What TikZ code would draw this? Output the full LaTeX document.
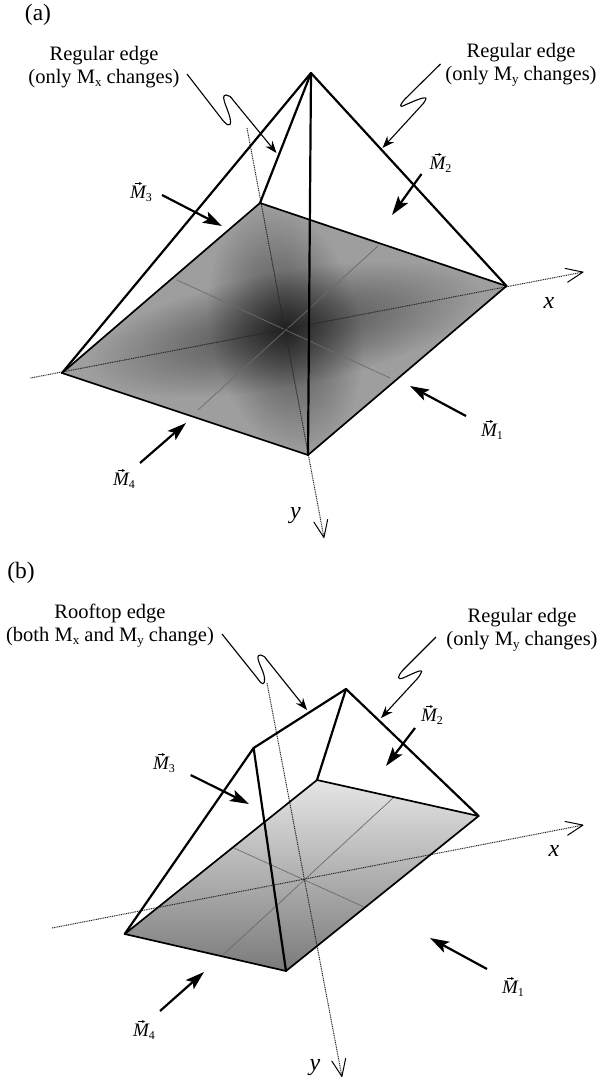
\documentclass[tikz,border=0pt]{standalone}
\usepackage{fontspec}
\setmainfont{Liberation Serif}
\usetikzlibrary{arrows.meta,fadings}
\tikzfading[name=blob,inner color=transparent!0,middle color=transparent!70,outer color=transparent!100]
\newcommand\MV[1]{M\raisebox{-3.5pt}{\fontsize{12}{12}\selectfont\upshape #1}}
\newcommand\SB[1]{\raisebox{-3pt}{\fontsize{13}{13}\selectfont #1}}
\tikzset{
  x=1pt,y=-1pt,
  edgeline/.style={line width=2.2pt,line join=round,line cap=round},
  baseline line/.style={line width=1.7pt,line join=round},
  axisline/.style={line width=1pt,dash pattern=on 1pt off .8pt,black!85},
  axisarrow/.style={axisline,-{Straight Barb[length=17pt,width=14pt,line width=1pt,black,round]}},
  midline/.style={line width=.9pt,dash pattern=on 1pt off .5pt,black!58},
  pointer/.style={line width=1.1pt,-{Stealth[length=12pt,width=9pt,inset=4pt]}},
  magarrow/.style={line width=2.2pt,-{Stealth[length=19pt,width=12pt,inset=4pt]}},
  vecmark/.style={line width=.6pt,-{Stealth[length=3pt,width=3pt]}},
  caption/.style={font=\fontsize{20.5}{23}\selectfont,align=center,inner sep=0pt},
  panel/.style={font=\fontsize{23.5}{26}\selectfont,inner sep=0pt},
  maglabel/.style={font=\fontsize{19}{21}\selectfont\itshape,inner sep=0pt},
  axislabel/.style={font=\fontsize{24}{26}\selectfont\itshape,inner sep=0pt},
}
\begin{document}
\begin{tikzpicture}
\useasboundingbox (0,0) rectangle (598,1081);
% ---------- panel (a)
\coordinate (aA) at (311,73);
\coordinate (aB) at (260,203);
\coordinate (aR) at (506.5,286);
\coordinate (aL) at (62,373);
\coordinate (aF) at (308,455);
\coordinate (aC) at (285,329);
\fill[black!38] (aB)--(aR)--(aF)--(aL)--cycle;
\begin{scope}
\clip (aB)--(aR)--(aF)--(aL)--cycle;
\begin{scope}[transform canvas={shift={(aC)},rotate=10.8}]
\fill[black,opacity=.55,path fading=blob] (0,0) ellipse [x radius=200,y radius=58];
\end{scope}
\begin{scope}[transform canvas={shift={(aC)},rotate=-79}]
\fill[black,opacity=.55,path fading=blob] (0,0) ellipse [x radius=125,y radius=75];
\end{scope}
\end{scope}
\coordinate (aXs) at (30.5,378); \coordinate (aXe) at (583.5,272);
\coordinate (aYs) at (247,128);  \coordinate (aYe) at (324,538);
\coordinate (aM1s) at (177,280); \coordinate (aM1e) at (390,378);
\coordinate (aM2s) at (378,246); \coordinate (aM2e) at (198,410);
\draw[midline] (aM1s)--(aM1e);
\draw[midline] (aM2s)--(aM2e);
\draw[axisarrow] (aXs)--(aXe);
\draw[axisarrow] (aYs)--(aYe);
\draw[baseline line] (aB)--(aR)--(aF)--(aL)--cycle;
\draw[edgeline] (aA)--(aL);
\draw[edgeline] (aA)--(aB);
\draw[edgeline] (aA)--(aF);
\draw[edgeline] (aA)--(aR);
\node[panel] (alabel) at (38,15) {(a)};
\node[caption] (acapL) at (104,67) {Regular edge\\(only M\SB{x} changes)};
\node[caption] (acapR) at (521,65) {Regular edge\\(only M\SB{y} changes)};
\coordinate (aPLs) at (187,74); \coordinate (aPLe) at (276.5,153);
\coordinate (aPRs) at (440.5,64); \coordinate (aPRe) at (382.5,148);
\draw[pointer] (aPLs) -- (221,118) .. controls (226,125) and (231,128) .. (230.5,121)
  .. controls (230,112) and (219,95) .. (226,95) .. controls (229,95) and (231,97) .. (233,100) -- (aPLe);
\draw[pointer] (aPRs) -- (405,99) .. controls (399,106) and (399,108) .. (405,105)
  .. controls (412,102) and (429,94) .. (425.5,100) .. controls (424,103) and (423,104) .. (421,106) -- (aPRe);
\coordinate (aa3) at (162,195); \coordinate (ab3) at (222,226);
\coordinate (aa2) at (421.5,174); \coordinate (ab2) at (392,215);
\coordinate (aa1) at (466,416); \coordinate (ab1) at (410,386);
\coordinate (aa4) at (140,463); \coordinate (ab4) at (186,423);
\draw[magarrow] (aa3)--(ab3);
\draw[magarrow] (aa2)--(ab2);
\draw[magarrow] (aa1)--(ab1);
\draw[magarrow] (aa4)--(ab4);
\node[maglabel] (aLM3) at (141,194) {\MV{3}};
\node[maglabel] (aLM2) at (440.5,165) {\MV{2}};
\node[maglabel] (aLM1) at (492,432) {\MV{1}};
\node[maglabel] (aLM4) at (124,481) {\MV{4}};
\draw[vecmark] ([shift={(-6,-10.5)}]aLM3.center) -- ++(7,0);
\draw[vecmark] ([shift={(-6,-10.5)}]aLM2.center) -- ++(7,0);
\draw[vecmark] ([shift={(-6,-10.5)}]aLM1.center) -- ++(7,0);
\draw[vecmark] ([shift={(-6,-10.5)}]aLM4.center) -- ++(7,0);
\node[axislabel] (aLx) at (549,303) {x};
\node[axislabel] (aLy) at (295.5,516) {y};
% ---------- panel (b)
\coordinate (bP) at (253.6,748);
\coordinate (bQ) at (346,689);
\coordinate (bB) at (317,780);
\coordinate (bR) at (478.6,816);
\coordinate (bL) at (124.7,934);
\coordinate (bF) at (286,971);
\shade[top color=black!10,bottom color=black!52] (bB)--(bR)--(bF)--(bL)--cycle;
\coordinate (bXs) at (52,928); \coordinate (bXe) at (583.5,825);
\coordinate (bYs) at (267,683); \coordinate (bYe) at (342,1077);
\coordinate (bM1s) at (234,848); \coordinate (bM1e) at (364,907);
\coordinate (bM2s) at (393,798); \coordinate (bM2e) at (223,955);
\draw[midline] (bM1s)--(bM1e);
\draw[midline] (bM2s)--(bM2e);
\draw[axisarrow] (bXs)--(bXe);
\draw[axisarrow] (bYs)--(bYe);
\draw[baseline line] (bB)--(bR)--(bF)--(bL)--cycle;
\draw[edgeline] (bP)--(bQ);
\draw[edgeline] (bQ)--(bR);
\draw[edgeline] (bQ)--(bB);
\draw[edgeline] (bP)--(bL);
\draw[edgeline] (bP)--(bF);
\node[panel] (blabel) at (21,573) {(b)};
\node[caption] (bcapL) at (110,625.5) {Rooftop edge\\(both M\SB{x} and M\SB{y} change)};
\node[caption] (bcapR) at (522,630) {Regular edge\\(only M\SB{y} changes)};
\coordinate (bPLs) at (222,634); \coordinate (bPLe) at (307,710);
\coordinate (bPRs) at (436,637); \coordinate (bPRe) at (381,718);
\draw[pointer] (bPLs) -- (258,679) .. controls (262,685) and (265,686) .. (264.5,678)
  .. controls (264,670) and (253,655) .. (260.5,655) .. controls (263,655) and (265,657) .. (267,660) -- (bPLe);
\draw[pointer] (bPRs) -- (403,670) .. controls (397,677) and (397,680) .. (403,678)
  .. controls (410,675) and (425,667) .. (421,673) .. controls (420,675) and (419,677) .. (417,679) -- (bPRe);
\coordinate (ba3) at (190.7,775); \coordinate (bb3) at (249,804);
\coordinate (ba2) at (415,728); \coordinate (bb2) at (386,766);
\coordinate (ba1) at (487,969); \coordinate (bb1) at (430,938);
\coordinate (ba4) at (160,1011); \coordinate (bb4) at (204,972);
\draw[magarrow] (ba3)--(bb3);
\draw[magarrow] (ba2)--(bb2);
\draw[magarrow] (ba1)--(bb1);
\draw[magarrow] (ba4)--(bb4);
\node[maglabel] (bLM3) at (164,765) {\MV{3}};
\node[maglabel] (bLM2) at (432,717) {\MV{2}};
\node[maglabel] (bLM1) at (513,989) {\MV{1}};
\node[maglabel] (bLM4) at (144,1032) {\MV{4}};
\draw[vecmark] ([shift={(-6,-10.5)}]bLM3.center) -- ++(7,0);
\draw[vecmark] ([shift={(-6,-10.5)}]bLM2.center) -- ++(7,0);
\draw[vecmark] ([shift={(-6,-10.5)}]bLM1.center) -- ++(7,0);
\draw[vecmark] ([shift={(-6,-10.5)}]bLM4.center) -- ++(7,0);
\node[axislabel] (bLx) at (554,851) {x};
\node[axislabel] (bLy) at (315,1068) {y};
\end{tikzpicture}
\end{document}
